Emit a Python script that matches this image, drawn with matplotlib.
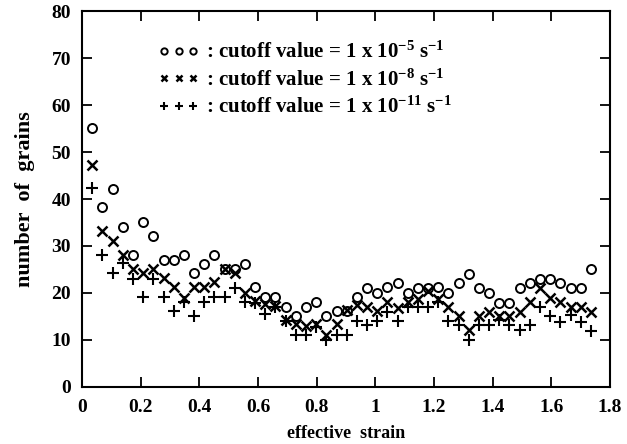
import matplotlib
matplotlib.use("Agg")
import matplotlib.pyplot as plt

# effective strain sampling (~0.0347 apart)
strain = [0.035, 0.069, 0.104, 0.139, 0.174, 0.208, 0.243, 0.278, 0.312, 0.347,
          0.382, 0.416, 0.451, 0.486, 0.521, 0.555, 0.590, 0.625, 0.659, 0.694,
          0.729, 0.763, 0.798, 0.833, 0.868, 0.902, 0.937, 0.972, 1.006, 1.041,
          1.076, 1.110, 1.145, 1.180, 1.215, 1.249, 1.284, 1.319, 1.353, 1.388,
          1.423, 1.457, 1.492, 1.527, 1.562, 1.596, 1.631, 1.666, 1.700, 1.735]

# number of grains, cutoff 1e-5
grains_c5 = [55.2, 38.2, 42.1, 34.1, 28.1, 35.2, 32.2, 27.0, 27.0, 28.1,
             24.2, 26.2, 28.1, 25.0, 25.0, 26.2, 21.2, 19.2, 19.2, 17.1,
             15.2, 17.1, 18.0, 15.1, 16.1, 16.2, 19.1, 21.1, 20.0, 21.2,
             22.1, 20.0, 21.0, 21.0, 21.2, 20.0, 22.2, 24.0, 21.0, 19.9,
             17.9, 17.9, 21.0, 22.1, 22.9, 22.9, 22.1, 21.0, 21.0, 25.0]

# cutoff 1e-8
grains_c8 = [47.2, 33.2, 31.1, 28.1, 25.2, 24.2, 25.2, 23.1, 21.2, 19.0,
             21.2, 21.2, 22.3, 25.0, 24.2, 20.1, 18.2, 17.6, 17.2, 14.3,
             13.5, 13.0, 13.3, 11.0, 13.4, 16.3, 17.5, 17.1, 16.1, 18.0,
             16.9, 18.0, 18.7, 20.4, 18.8, 17.1, 15.1, 12.1, 15.1, 16.0,
             15.1, 15.1, 16.0, 18.0, 21.0, 19.0, 18.0, 17.1, 17.1, 16.0]

# cutoff 1e-11
grains_c11 = [42.3, 28.1, 24.2, 26.3, 23.0, 19.1, 23.0, 19.1, 16.1, 18.1,
              15.1, 18.1, 19.1, 19.1, 21.1, 18.1, 17.8, 15.5, 17.0, 14.0,
              11.1, 11.1, 12.8, 10.0, 11.0, 11.0, 14.0, 13.2, 14.0, 16.0,
              14.0, 17.0, 17.0, 17.1, 18.1, 14.0, 13.2, 10.0, 13.2, 13.2,
              14.3, 13.2, 12.1, 13.2, 17.1, 15.0, 13.9, 15.3, 13.9, 12.0]

labels = [r": cutoff value = 1 x 10$^{-5}$ s$^{-1}$",
          r": cutoff value = 1 x 10$^{-8}$ s$^{-1}$",
          r": cutoff value = 1 x 10$^{-11}$ s$^{-1}$"]

x_ticks = [0, 0.2, 0.4, 0.6, 0.8, 1.0, 1.2, 1.4, 1.6, 1.8]
x_ticklabels = ["0", "0.2", "0.4", "0.6", "0.8", "1", "1.2", "1.4", "1.6", "1.8"]
y_ticks = [0, 10, 20, 30, 40, 50, 60, 70, 80]

plt.rcParams["font.family"] = ["Liberation Serif", "DejaVu Serif"]
plt.rcParams["font.weight"] = "bold"
plt.rcParams["mathtext.fontset"] = "custom"
plt.rcParams["mathtext.rm"] = "Liberation Serif:bold"
plt.rcParams["mathtext.it"] = "Liberation Serif:bold"
plt.rcParams["mathtext.bf"] = "Liberation Serif:bold"
plt.rcParams["mathtext.default"] = "rm"

fig = plt.figure(figsize=(6.27, 4.44), dpi=100)
ax = fig.add_axes([0.1308, 0.1284, 0.842, 0.8468])

ax.plot(strain, grains_c5, linestyle="none", marker="o", markersize=6.5,
        markerfacecolor="none", markeredgecolor="black", markeredgewidth=1.4,
        label=labels[0])
ax.plot(strain, grains_c8, linestyle="none", marker="x", markersize=7,
        color="black", markeredgewidth=1.8, label=labels[1])
ax.plot(strain, grains_c11, linestyle="none", marker="+", markersize=8,
        color="black", markeredgewidth=1.5, label=labels[2])

ax.set_xlim(0, 1.8)
ax.set_ylim(0, 80)
ax.set_xticks(x_ticks)
ax.set_xticklabels(x_ticklabels)
ax.set_yticks(y_ticks)
ax.tick_params(direction="in", length=7, width=1.3, labelsize=14,
               top=True, right=True)
ax.tick_params(axis="x", pad=9)
ax.tick_params(axis="y", pad=8)
for s in ax.spines.values():
    s.set_linewidth(1.5)

ax.set_xlabel("effective  strain", fontsize=13, fontweight="bold", labelpad=6)
ax.set_ylabel("number  of  grains", fontsize=16, fontweight="bold", labelpad=12)

ax.legend(loc="upper left", bbox_to_anchor=(0.128, 0.94), frameon=False,
          numpoints=3, markerscale=0.7, handlelength=2.0, handletextpad=0.3,
          labelspacing=0.3, fontsize=15, borderaxespad=0)

fig.savefig("out.png", dpi=100)
